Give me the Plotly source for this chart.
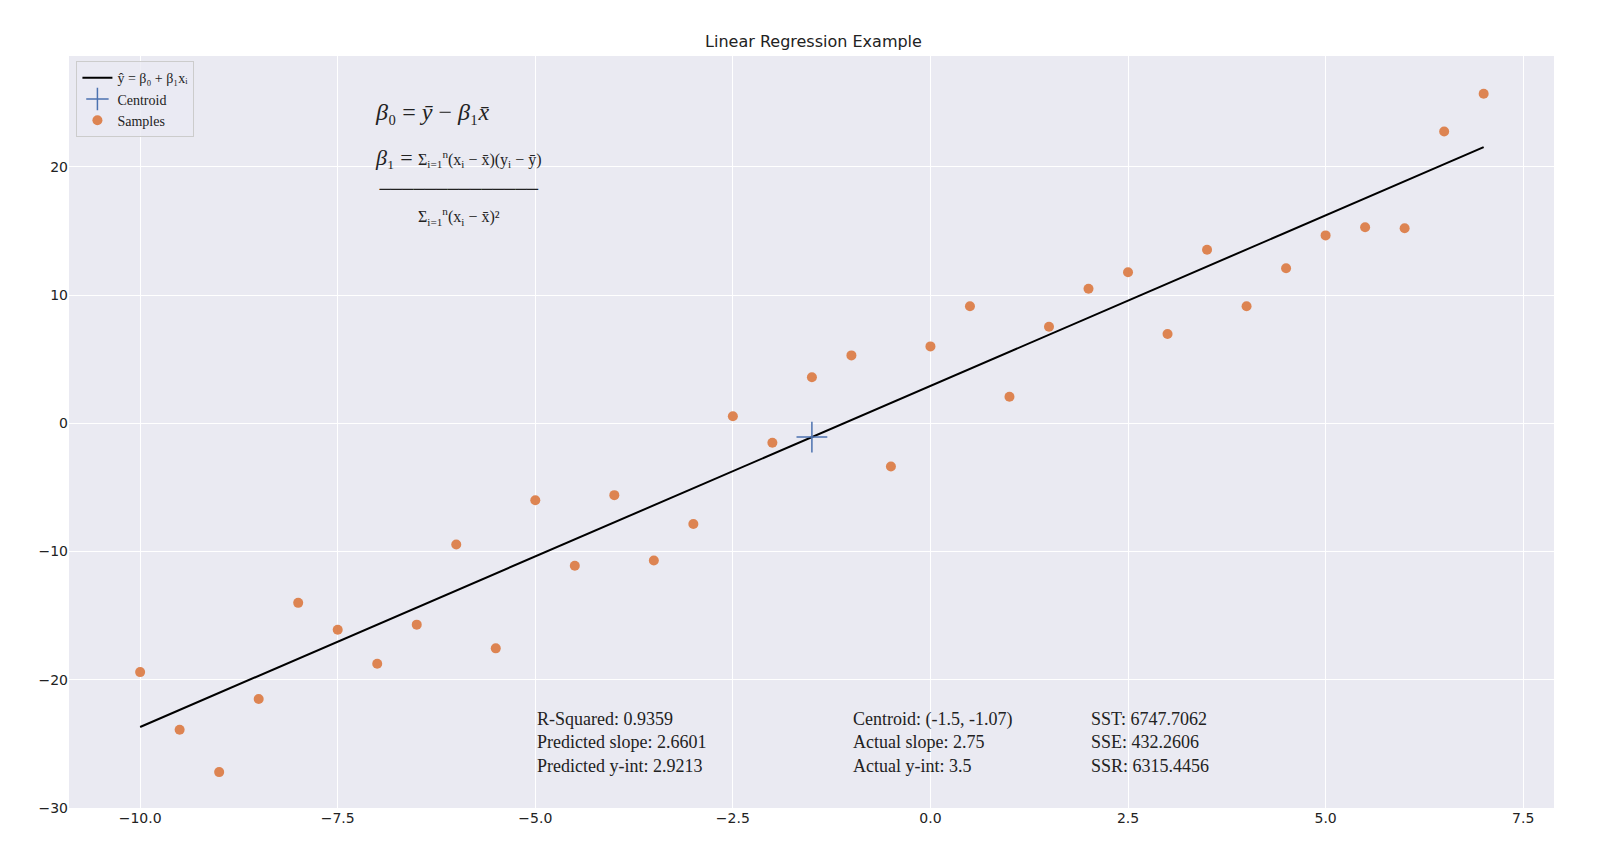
import plotly.graph_objects as go

xs = [-10, -9.5, -9, -8.5, -8, -7.5, -7, -6.5, -6, -5.5, -5, -4.5, -4, -3.5, -3, -2.5, -2,
      -1.5, -1, -0.5, 0, 0.5, 1, 1.5, 2, 2.5, 3, 3.5, 4, 4.5, 5, 5.5, 6, 6.5, 7]
ys = [-19.4, -23.9, -27.2, -21.5, -14.0, -16.1, -18.75, -15.7, -9.45, -17.55, -6.0, -11.1,
      -5.6, -10.7, -7.85, 0.56, -1.52, 3.6, 5.3, -3.37, 6.0, 9.13, 2.08, 7.53, 10.5, 11.78,
      6.97, 13.54, 9.13, 12.1, 14.66, 15.3, 15.22, 22.76, 25.7]
slope = 2.6601
intercept = 2.9213
centroid = (-1.5, -1.07)
stats_left = ["R-Squared: 0.9359", "Predicted slope: 2.6601", "Predicted y-int: 2.9213"]
stats_mid = ["Centroid: (-1.5, -1.07)", "Actual slope: 2.75", "Actual y-int: 3.5"]
stats_right = ["SST: 6747.7062", "SSE: 432.2606", "SSR: 6315.4456"]

line_x = [xs[0], xs[-1]]
line_y = [intercept + slope * v for v in line_x]

serif = "Liberation Serif"
fig = go.Figure()
fig.add_trace(go.Scatter(x=line_x, y=line_y, mode="lines", line=dict(color="black", width=2),
                         name="ŷ = β₀ + β₁xᵢ"))
fig.add_trace(go.Scatter(x=[centroid[0]], y=[centroid[1]], mode="markers", name="Centroid",
                         marker=dict(symbol="cross-thin", size=22, line=dict(color="#4c72b0", width=1.5))))
fig.add_trace(go.Scatter(x=xs, y=ys, mode="markers", name="Samples",
                         marker=dict(color="#dd8452", size=10)))

for xpos, lines in [(-5.0, stats_left), (-1.0, stats_mid), (2.0, stats_right)]:
    fig.add_annotation(x=xpos, y=-22.1, xanchor="left", yanchor="top", showarrow=False,
                       align="left", text="<br>".join(lines),
                       font=dict(family=serif, size=18, color="#222"))

fig.add_annotation(x=-7.05, y=24.3, xanchor="left", yanchor="middle", showarrow=False,
                   text="<i>β</i>₀ = <i>ȳ</i> − <i>β</i>₁<i>x̄</i>",
                   font=dict(family=serif, size=24, color="#222"))
fig.add_annotation(x=-7.05, y=18.5, xanchor="left", yanchor="middle", showarrow=False, align="center",
                   text="<i>β</i>₁ = <span style='font-size:16px'>Σ<sub>i=1</sub><sup>n</sup>(x<sub>i</sub> − x̄)(y<sub>i</sub> − ȳ)</span>"
                        "<br><span style='font-size:16px'>──────────────</span>"
                        "<br><span style='font-size:16px'>Σ<sub>i=1</sub><sup>n</sup>(x<sub>i</sub> − x̄)²</span>",
                   font=dict(family=serif, size=22, color="#222"))

fig.update_layout(
    width=1611, height=859,
    paper_bgcolor="white", plot_bgcolor="#eaeaf2",
    margin=dict(l=61, r=65, t=48, b=59),
    title=dict(text="Linear Regression Example", x=0.5, xanchor="center", y=0.968,
               font=dict(family="DejaVu Sans", size=16, color="#222")),
    font=dict(family="DejaVu Sans", size=14, color="#222"),
    showlegend=True,
    legend=dict(x=0.005, y=0.993, xanchor="left", yanchor="top", bgcolor="rgba(234,234,242,0.8)",
                bordercolor="#cccccc", borderwidth=1, font=dict(family=serif, size=14)),
)
fig.update_xaxes(range=[-10.9, 7.89], tickvals=[-10, -7.5, -5, -2.5, 0, 2.5, 5, 7.5],
                 ticktext=["−10.0", "−7.5", "−5.0", "−2.5", "0.0", "2.5", "5.0", "7.5"],
                 gridcolor="white", gridwidth=1.2, zeroline=False, showline=False)
fig.update_yaxes(range=[-30, 28.65], tickvals=[-30, -20, -10, 0, 10, 20],
                 ticktext=["−30", "−20", "−10", "0", "10", "20"],
                 gridcolor="white", gridwidth=1.2, zeroline=False, showline=False)

fig.write_html("out.html")
